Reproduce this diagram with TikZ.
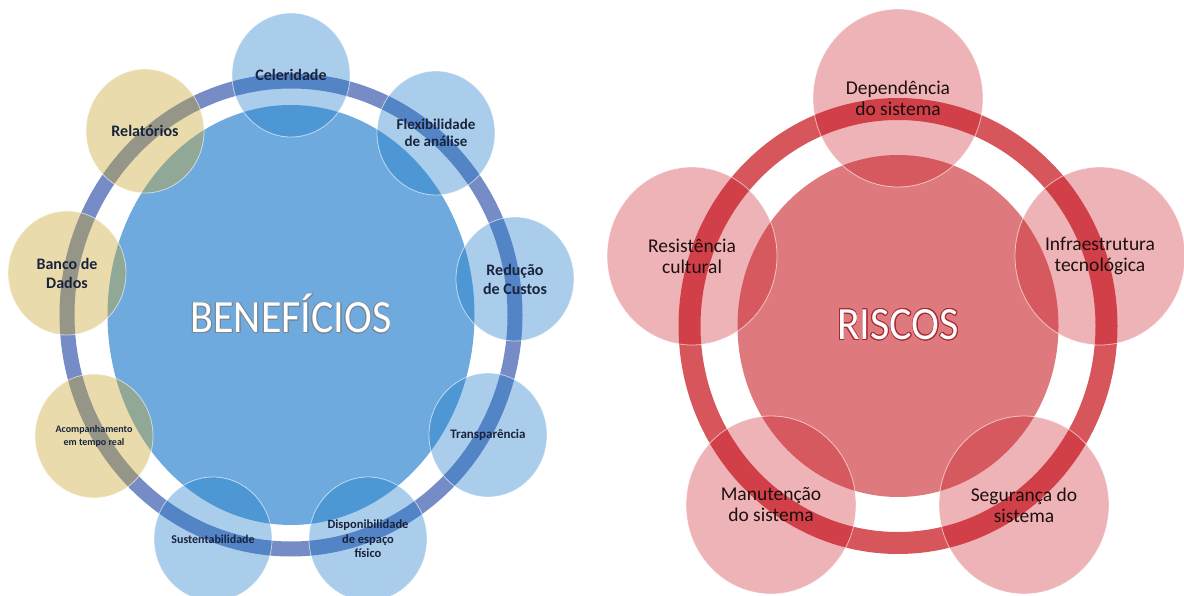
\documentclass[tikz,border=0pt]{standalone}
\usepackage{fontspec}
\setmainfont{Carlito}
\usepackage{contour}
\usetikzlibrary{shapes.geometric}

\definecolor{benfill}{RGB}{110,170,222}
\definecolor{benring}{RGB}{118,140,198}
\definecolor{bendisc}{RGB}{25,120,200}
\definecolor{bengold}{RGB}{200,165,45}
\definecolor{bentext}{RGB}{25,35,60}
\definecolor{benedge}{RGB}{120,135,150}
\definecolor{risfill}{RGB}{222,122,126}
\definecolor{risring}{RGB}{214,86,92}
\definecolor{risdisc}{RGB}{200,20,30}
\definecolor{ristext}{RGB}{30,15,15}
\definecolor{risedge}{RGB}{170,40,50}

\contourlength{0.7pt}
\newcommand{\bigword}[2]{\raisebox{3pt}{\scalebox{1}[1.1]{\contour{#1}{#2}}}}

\begin{document}
\begin{tikzpicture}
[x=1pt, y=-1pt]
\tikzstyle{core}=[ellipse, inner sep=0pt, text=white, font=\fontsize{42}{42}\selectfont]
\tikzstyle{petal}=[ellipse, inner sep=0pt, align=center, draw=white, draw opacity=0.6, line width=0.8pt, text opacity=1]
\tikzstyle{bpetal}=[petal, fill=bendisc, fill opacity=0.37, minimum width=118pt, minimum height=124pt, text=bentext]
\tikzstyle{gpetal}=[bpetal, fill=bengold, fill opacity=0.4]
\tikzstyle{rpetal}=[petal, fill=risdisc, fill opacity=0.32, minimum width=170pt, minimum height=178pt, text=ristext, font=\fontsize{19.5}{21}\selectfont]

\useasboundingbox (0,0) rectangle (1184,596);

% benefits
\node[core, fill=benfill, minimum width=367pt, minimum height=420pt] (ben) at (291,315) {\bigword{benedge}{BENEFÍCIOS}};
\draw[benring, line width=15pt] (ben.center) ellipse [x radius=224pt, y radius=234pt];

\node[bpetal, font=\bfseries\fontsize{16}{19}\selectfont]     (cel)    at (291,75)  {Celeridade};
\node[bpetal, font=\bfseries\fontsize{15}{16.5}\selectfont]   (flex)   at (436,133) {Flexibilidade\\de análise};
\node[bpetal, font=\bfseries\fontsize{16}{19}\selectfont]     (red)    at (515,279) {Redução\\de Custos};
\node[bpetal, font=\bfseries\fontsize{13}{15}\selectfont]     (transp) at (488,435) {Transparência};
\node[bpetal, font=\bfseries\fontsize{12.5}{14.5}\selectfont] (disp)   at (368,539) {Disponibilidade\\de espaço\\físico};
\node[bpetal, font=\bfseries\fontsize{12}{14}\selectfont]     (sust)   at (213,539) {Sustentabilidade};
\node[gpetal, font=\bfseries\fontsize{10}{13}\selectfont]     (acomp)  at (94,436)  {Acompanhamento\\em tempo real};
\node[gpetal, font=\bfseries\fontsize{16}{19}\selectfont]     (banco)  at (67,273)  {Banco de\\Dados};
\node[gpetal, font=\bfseries\fontsize{16}{19}\selectfont]     (rel)    at (145,131) {Relatórios};

% risks
\node[core, fill=risfill, minimum width=321pt, minimum height=342pt] (ris) at (898,326) {\bigword{risedge}{RISCOS}};
\draw[risring, line width=22pt] (ris.center) ellipse [x radius=208.5pt, y radius=217pt];

\node[rpetal] (dep)   at (898,98)   {Dependência\\do sistema};
\node[rpetal] (infra) at (1100,256) {Infraestrutura\\tecnológica};
\node[rpetal] (seg)   at (1024,505) {Segurança do\\sistema};
\node[rpetal] (man)   at (771,505)  {Manutenção\\do sistema};
\node[rpetal] (res)   at (692,256)  {Resistência\\cultural};
\end{tikzpicture}
\end{document}
